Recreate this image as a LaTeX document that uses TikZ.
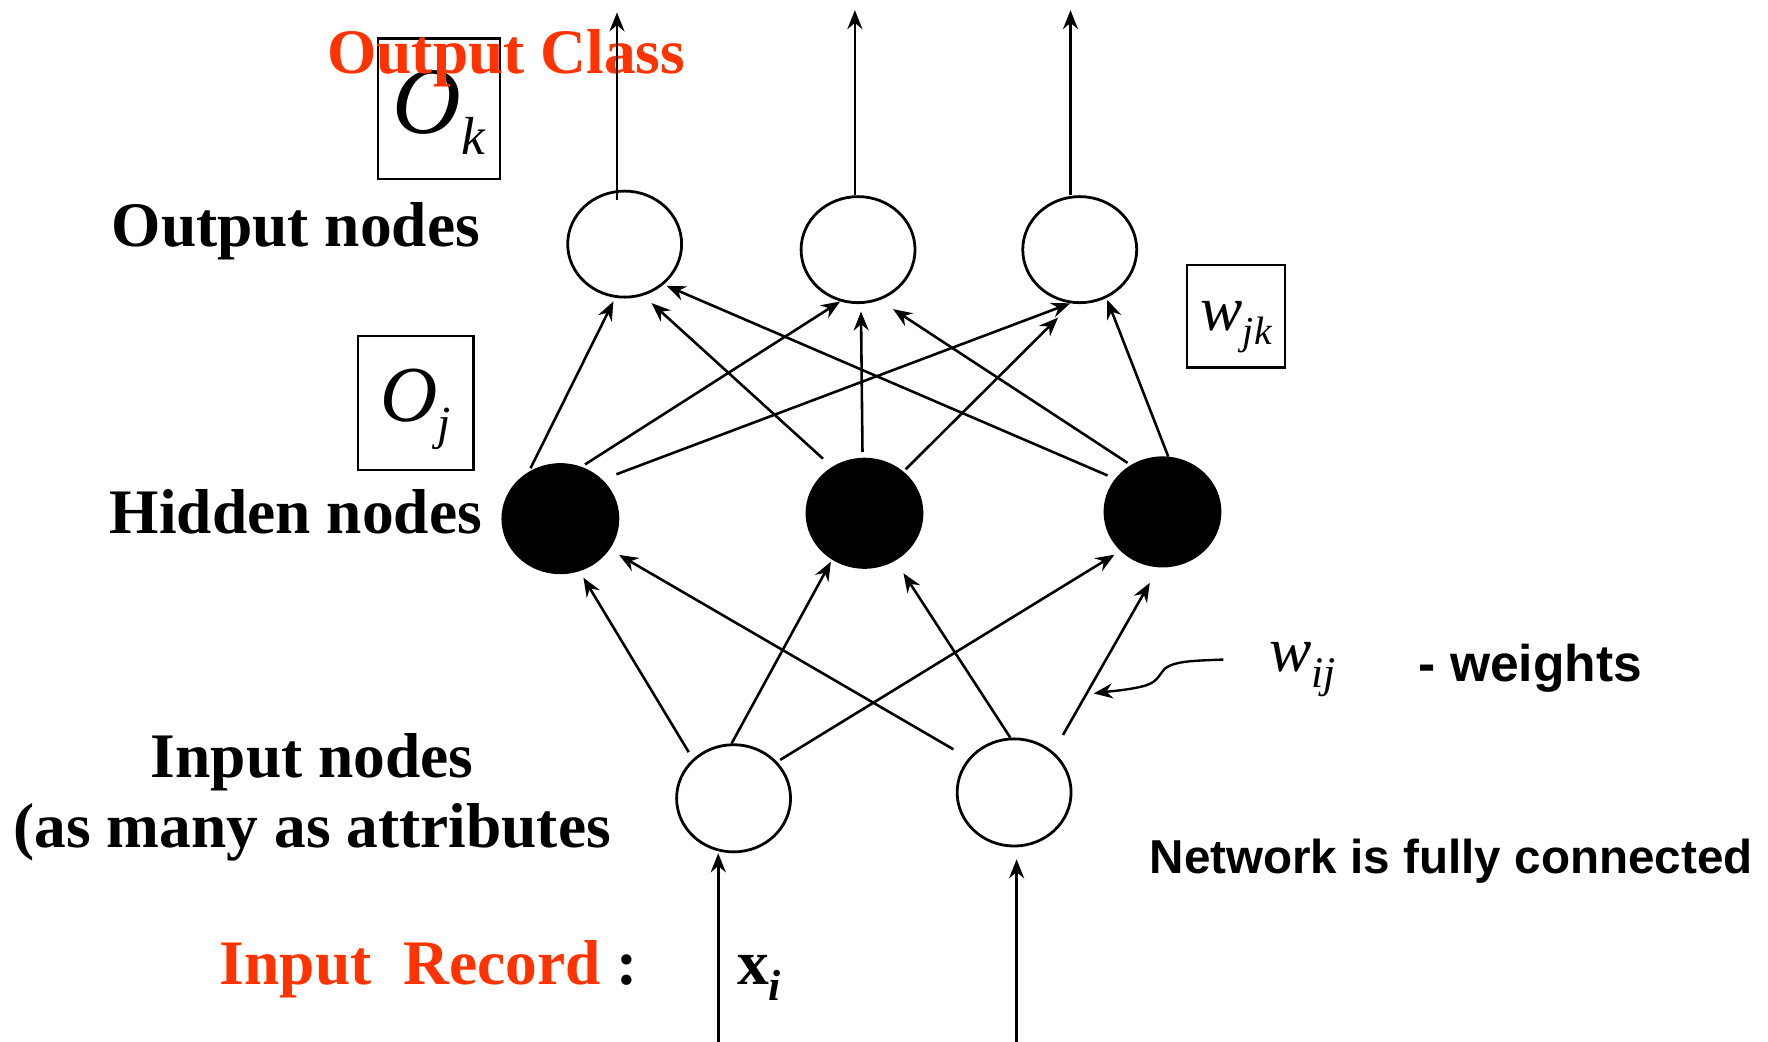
\documentclass[tikz,border=0pt]{standalone}
\usepackage{fontspec}
\setmainfont{Liberation Serif}
\setsansfont{Liberation Sans}
\usepackage{tikz}
\usetikzlibrary{shapes.geometric, arrows.meta, positioning}
\definecolor{hotred}{RGB}{255,51,0}

\newcommand{\fsz}[1]{\fontsize{#1}{#1}\selectfont}

\begin{document}
\begin{tikzpicture}[
    x=0.01cm, y=-0.01cm,
    unit/.style={ellipse, draw, line width=0.7pt, inner sep=0pt, minimum width=1.01cm, minimum height=0.94cm},
    hidden/.style={unit, fill=black, minimum width=1.02cm, minimum height=0.96cm},
    wire/.style={-{Stealth[length=4.8pt, width=3.8pt, inset=1.6pt]}, line width=0.65pt},
    idxbox/.style={rectangle, draw, line width=0.6pt, inner sep=0pt},
    lbl/.style={font=\bfseries\fsz{16}, inner sep=0pt},
]
\useasboundingbox (0,0) rectangle (1568,924);

% Nodes
\node[unit] (O1) at (554,216.5) {};
\node[unit] (O2) at (761,221.4) {};
\node[unit] (O3) at (957.6,221.4) {};
\node[hidden] (H1) at (497,460) {};
\node[hidden] (H2) at (766.7,455.2) {};
\node[hidden] (H3) at (1031,454) {};
\node[unit, minimum height=0.95cm] (I1) at (650.6,708) {};
\node[unit, minimum height=0.95cm] (I2) at (899.4,702.8) {};

% index boxes
\node[idxbox, minimum width=1.084cm, minimum height=1.247cm, text height=18pt, text depth=5.7pt] (Ok) at (389.2,96.4) {\fsz{24}\itshape O\raisebox{-5.5pt}{\fsz{13.5}k}};
\node[idxbox, minimum width=1.02cm, minimum height=1.19cm, text height=14pt, text depth=4.6pt] (Oj) at (368.8,357.4) {\fsz{20}\itshape O\raisebox{-4.5pt}{\fsz{12}j}};
\node[idxbox, minimum width=0.866cm, minimum height=0.907cm, text height=10pt, text depth=3pt] (wjk) at (1096.3,280.4) {\fsz{16}\itshape w\raisebox{-3.6pt}{\fsz{10}jk}};

% Labels
\node[lbl, text=hotred, anchor=base] (cls) at (449,65.6) {Output Class};
\node[lbl, anchor=base] (outlbl) at (262.4,218.8) {Output nodes};
\node[lbl, anchor=base] (hidlbl) at (262.5,473) {Hidden nodes};
\node[lbl, font=\bfseries\fontsize{16}{17.5}\selectfont, align=center] (inlbl) at (277,707) {Input nodes\\(as many as attributes};
\node[lbl, anchor=base] (reclbl) at (380.3,873.5) {\textcolor{hotred}{Input~~Record} :};
\node[lbl, anchor=base west] (xi) at (653,873.5) {x\raisebox{-4pt}{\fsz{11}\itshape i}};
\node[inner sep=0pt, anchor=base west, font=\fsz{16}\itshape] (wij) at (1125,595.7) {w\raisebox{-4pt}{\fsz{11}ij}};
\node[inner sep=0pt, font=\sffamily\bfseries\fsz{13}, base right=0.72cm of wij, yshift=-2.5pt] (wlbl) {- weights};
\node[inner sep=0pt, font=\sffamily\bfseries\fsz{12}, anchor=base] (netlbl) at (1287,774.5) {Network is fully connected};

% free ends
\coordinate (top1) at (547.2,11);
\coordinate (top2) at (758.2,9);
\coordinate (top3) at (949.4,9);
\coordinate (src1) at (637,924);
\coordinate (src2) at (901.6,924);
\coordinate (wtip) at (970,615);

% Arcs/Paths
\draw[wire, shorten <=-2.5pt] (top1 |- O1.north) -- (top1);
\draw[wire] (top2 |- O2.north) -- (top2);
\draw[wire] (top3 |- O3.north) -- (top3);
\draw[wire] (src1) -- (src1 |- I1.south);
\draw[wire, shorten >=3pt] (src2) -- (src2 |- I2.south);

% hidden -> output
\draw[wire, shorten <=1pt, shorten >=1pt] (H1.124.5) -- (O1.260);
\draw[wire, shorten <=1.1pt] (H1.68.6) -- (O2.251.7);
\draw[wire, shorten <=3.8pt] (H1.43.5) -- (O3.260.9);
\draw[wire, shorten <=3.1pt, shorten >=2.8pt] (H2.125.8) -- (O1.290.7);
\draw[wire, shorten <=1.5pt, shorten >=1.9pt] (H2.92.7) -- (O2.273.4);
\draw[wire, shorten <=0.8pt, shorten >=5pt] (H2.47.6) -- (O3.262.4);
\draw[wire, shorten <=2.1pt, shorten >=0.8pt] (H3.145.2) -- (O1.314.8);
\draw[wire, shorten <=1pt, shorten >=4.1pt] (H3.124.2) -- (O2.293);
\draw[wire, shorten >=0.5pt] (H3.84.5) -- (O3.299.4);

% input -> hidden
\draw[wire, shorten <=2pt, shorten >=1.9pt] (I1.136.5) -- (H1.290.3);
\draw[wire, shorten >=0.6pt] (I1.92.6) -- (H2.235.6);
\draw[wire, shorten <=0.9pt, shorten >=1.8pt] (I1.40.1) -- (H3.223.3);
\draw[wire, shorten <=4.4pt, shorten >=2.8pt] (I2.143.8) -- (H1.328.1);
\draw[wire, shorten >=3.8pt] (I2.94) -- (H2.303.6);
\draw[wire, shorten <=4.9pt, shorten >=4.5pt] (I2.46.6) -- (H3.266.9);

% pointer from the weight label
\draw[wire, line width=0.6pt] ([shift={(-40,-9)}]wij.west) .. controls (1060,586) and (1042,586) .. (1033,593)
    .. controls (1027,600) and (1026,606) .. (1012,609) .. controls (1000,612) and (985,613) .. (wtip);

\end{tikzpicture}
\end{document}
